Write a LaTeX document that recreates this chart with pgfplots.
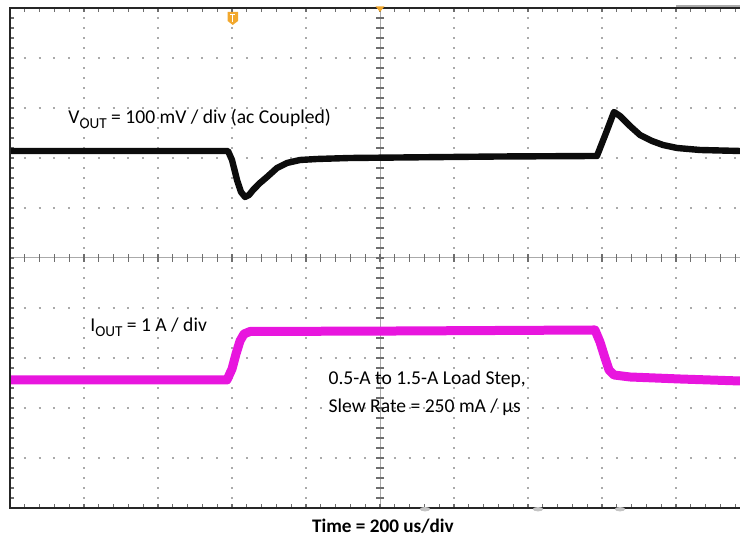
\documentclass[border=0pt]{standalone}
\usepackage{fontspec}
\setmainfont{Carlito}
\usepackage{pgfplots}
\pgfplotsset{compat=1.18}

\definecolor{trcblack}{RGB}{12,12,12}
\definecolor{trcmag}{RGB}{232,22,222}
\definecolor{gridc}{RGB}{170,170,170}
\definecolor{tickc}{RGB}{110,110,110}
\definecolor{scopeorange}{RGB}{242,168,45}

\newcommand{\lab}{\fontsize{9.8pt}{12pt}\selectfont}
\newcommand{\sub}[1]{\raisebox{-0.22em}{\fontsize{7.6pt}{8pt}\selectfont #1}}

\begin{document}
\begin{tikzpicture}
% graticule: 10 x 10 divisions, 37pt x 25pt each
\begin{scope}[x=37pt,y=25pt]
  \foreach \i in {1,2,3,4,6,7,8,9}
    \draw[gridc, line width=1pt, dash pattern=on 1pt off 4pt, dash phase=0.5pt] (\i,0) -- (\i,10);
  \foreach \j in {1,2,3,4,6,7,8,9}
    \draw[gridc, line width=1pt, dash pattern=on 1pt off 6.4pt, dash phase=0.5pt] (0,\j) -- (9.865,\j);
  \draw[gridc, line width=0.5pt] (5,0) -- (5,10) (0,5) -- (9.865,5);
  \foreach \k in {0,...,50}
    \draw[tickc, line width=0.6pt] (5,\k/5) +(-2pt,0) -- +(2pt,0);
  \foreach \k in {0,...,49}
    \draw[tickc, line width=0.6pt] (\k/5,5) +(0,-2pt) -- +(0,2pt);
  \foreach \k in {0,...,50}
    \draw[tickc, line width=0.6pt] (0,\k/5) -- +(2pt,0);
  \foreach \k in {0,...,49}
    \draw[tickc, line width=0.6pt] (\k/5,0) -- +(0,2pt) (\k/5,10) -- +(0,-2pt);
\end{scope}

\begin{axis}[
  name=ax, at={(0,0)}, anchor=south west,
  scale only axis, width=365pt, height=250pt,
  xmin=0, xmax=9.865, ymin=0, ymax=10,
  hide axis, clip=false
]
% V_OUT, ac coupled (divisions)
\addplot[trcblack, line width=3.2pt, line join=round] coordinates {
  (0,7.14) (2.946,7.14) (3.0,6.96) (3.068,6.56) (3.122,6.32) (3.176,6.22)
  (3.23,6.26) (3.284,6.36) (3.378,6.50) (3.473,6.62) (3.608,6.80)
  (3.743,6.90) (3.919,6.96) (4.149,6.98) (4.595,7.00) (5.27,7.01)
  (6.622,7.03) (7.932,7.04) (8.054,7.50) (8.162,7.92) (8.243,7.84)
  (8.378,7.64) (8.514,7.46) (8.676,7.34) (8.824,7.26) (9.014,7.20)
  (9.324,7.16) (9.865,7.14)
};
% I_OUT (divisions)
\addplot[trcmag, line width=4.5pt, line join=round] coordinates {
  (0,2.56) (2.932,2.56) (3.0,2.78) (3.054,3.08) (3.108,3.34) (3.162,3.48)
  (3.243,3.53) (5.27,3.54) (7.905,3.56) (7.973,3.32) (8.041,3.00)
  (8.095,2.76) (8.162,2.66) (8.378,2.62) (9.054,2.58) (9.865,2.54)
};

\node[anchor=base west, font=\lab, inner sep=0pt]
  at (axis cs:0.784,7.68) {V\sub{OUT} = 100 mV / div (ac Coupled)};
\node[anchor=base west, font=\lab, inner sep=0pt]
  at (axis cs:1.08,3.52) {I\sub{OUT} = 1 A / div};
\node[anchor=base west, font=\lab, inner sep=0pt]
  at (axis cs:4.30,2.46) {0.5-A to 1.5-A Load Step,};
\node[anchor=base west, font=\lab, inner sep=0pt]
  at (axis cs:4.30,1.90) {Slew Rate = 250 mA / µs};
\node[anchor=base, font=\fontsize{9.6pt}{11pt}\selectfont\bfseries, inner sep=0pt]
  at (axis cs:5.04,-0.5) {Time = 200 us/div};
\end{axis}

% frame (left, top, bottom; right side is cut off)
\draw[black!85, line width=1pt]
  (ax.south east) -- (ax.south west) -- (ax.north west) -- (ax.north east);
\draw[gridc, line width=1.4pt] ([xshift=333pt,yshift=1pt]ax.north west) -- ([yshift=1pt]ax.north east);

% trigger marker and trigger point
\begin{scope}[shift={([xshift=111.4pt]ax.north west)}]
  \fill[scopeorange] (-2.6pt,-2pt) -- (2.6pt,-2pt) -- (2.6pt,-6.5pt) -- (0,-8.5pt) -- (-2.6pt,-6.5pt) -- cycle;
  \draw[white, line width=0.5pt] (-1.3pt,-3.4pt) -- (1.3pt,-3.4pt) (0,-3.4pt) -- (0,-6.8pt);
\end{scope}
\fill[scopeorange] ([xshift=185pt]ax.north west) +(-2.2pt,0.8pt) -- +(2.2pt,0.8pt) -- +(0,-2pt) -- cycle;

% small markers under the bottom edge
\foreach \xx in {207.5,264,305} {
  \fill[gridc!70] ([xshift=\xx pt,yshift=-0.6pt]ax.south west) ellipse (2.6pt and 1.1pt);
}

\pgfresetboundingbox
\path (-5pt,-18pt) rectangle (365pt,254pt);
\end{tikzpicture}
\end{document}
